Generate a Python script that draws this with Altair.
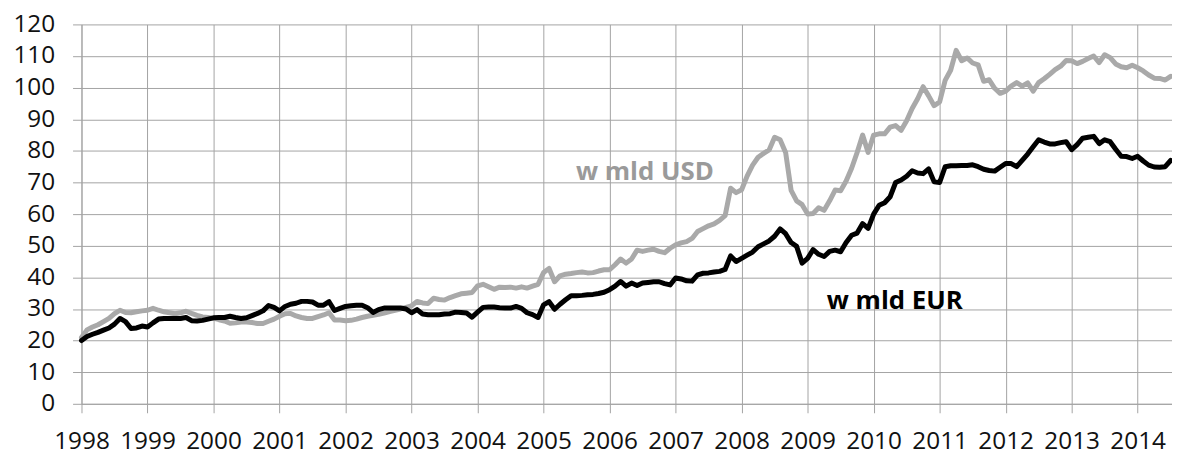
import altair as alt
import pandas as pd

# ---- data (monthly, Jan 1998 - Jul 2014) ----
start_year = 1998
year_ticks = list(range(1998, 2015))
value_ticks = list(range(0, 121, 10))

usd = [
    # 1998
    21.0, 23.4, 24.3, 25.0, 26.0, 27.0, 28.5, 29.6, 28.9, 28.8, 29.1, 29.4,
    # 1999
    29.6, 30.2, 29.6, 29.1, 28.8, 28.5, 28.8, 29.3, 28.6, 28.0, 27.5, 27.3,
    # 2000
    27.1, 26.6, 26.2, 25.5, 25.6, 25.9, 25.9, 25.7, 25.4, 25.4, 26.1, 26.8,
    # 2001
    27.7, 28.5, 28.6, 27.8, 27.3, 27.0, 27.0, 27.6, 28.1, 28.8, 26.5, 26.5,
    # 2002
    26.3, 26.4, 26.8, 27.3, 27.7, 28.0, 28.3, 28.7, 29.2, 29.6, 30.0, 30.5,
    # 2003
    31.0, 32.4, 31.9, 31.7, 33.4, 33.0, 32.8, 33.6, 34.2, 34.8, 35.0, 35.2,
    # 2004
    37.3, 37.8, 37.0, 36.2, 36.9, 36.8, 36.9, 36.6, 37.0, 36.6, 37.2, 37.8,
    # 2005
    41.5, 42.8, 38.6, 40.5, 41.0, 41.2, 41.5, 41.7, 41.4, 41.5, 42.0, 42.4,
    # 2006
    42.4, 44.0, 45.8, 44.5, 45.8, 48.6, 48.2, 48.6, 48.9, 48.2, 47.8, 49.2,
    # 2007
    50.3, 50.9, 51.3, 52.3, 54.5, 55.4, 56.3, 56.9, 58.0, 59.5, 68.2, 66.8,
    # 2008
    67.7, 72.0, 75.5, 78.0, 79.2, 80.3, 84.3, 83.5, 79.5, 67.5, 64.2, 63.0,
    # 2009
    60.0, 60.2, 62.0, 61.2, 64.2, 67.6, 67.4, 70.5, 74.5, 79.5, 85.0, 79.5,
    # 2010
    85.0, 85.4, 85.4, 87.5, 88.0, 86.5, 89.5, 93.4, 96.5, 100.3, 97.4, 94.3,
    # 2011
    95.5, 102.3, 105.5, 111.8, 108.5, 109.4, 107.8, 107.2, 102.0, 102.5, 99.8, 98.2,
    # 2012
    98.9, 100.5, 101.6, 100.5, 101.5, 98.9, 101.6, 102.8, 104.2, 105.7, 106.8, 108.6,
    # 2013
    108.5, 107.6, 108.3, 109.2, 110.0, 107.9, 110.4, 109.5, 107.5, 106.6, 106.3, 107.1,
    # 2014
    106.3, 105.3, 104.0, 103.0, 102.9, 102.4, 103.6,
]

eur = [
    # 1998
    20.0, 21.3, 22.0, 22.6, 23.3, 24.0, 25.2, 27.0, 26.0, 23.8, 24.0, 24.6,
    # 1999
    24.3, 25.6, 26.8, 27.0, 27.0, 27.0, 27.0, 27.3, 26.3, 26.2, 26.4, 26.8,
    # 2000
    27.2, 27.3, 27.3, 27.7, 27.3, 27.0, 27.2, 27.9, 28.6, 29.4, 31.1, 30.5,
    # 2001
    29.4, 30.8, 31.5, 31.8, 32.4, 32.4, 32.2, 31.2, 31.2, 32.3, 29.5, 30.2,
    # 2002
    30.8, 31.0, 31.2, 31.2, 30.4, 28.9, 29.8, 30.3, 30.3, 30.3, 30.3, 30.0,
    # 2003
    28.8, 29.8, 28.4, 28.2, 28.2, 28.2, 28.4, 28.5, 29.0, 28.9, 28.7, 27.4,
    # 2004
    29.0, 30.5, 30.6, 30.6, 30.4, 30.3, 30.3, 30.8, 30.2, 28.8, 28.2, 27.3,
    # 2005
    31.3, 32.3, 29.9, 31.5, 32.9, 34.2, 34.2, 34.3, 34.5, 34.6, 34.9, 35.3,
    # 2006
    36.1, 37.2, 38.7, 37.2, 38.2, 37.4, 38.2, 38.4, 38.6, 38.6, 38.0, 37.6,
    # 2007
    39.8, 39.5, 38.9, 38.8, 40.8, 41.3, 41.4, 41.7, 41.9, 42.5, 46.8, 45.0,
    # 2008
    46.0, 47.0, 48.0, 49.7, 50.6, 51.5, 53.0, 55.3, 53.8, 51.0, 49.8, 44.5,
    # 2009
    46.0, 48.8, 47.3, 46.6, 48.2, 48.6, 48.1, 51.0, 53.3, 54.0, 57.0, 55.5,
    # 2010
    60.0, 62.8, 63.6, 65.5, 70.0, 70.8, 72.0, 73.7, 73.0, 72.8, 74.3, 70.2,
    # 2011
    70.0, 75.0, 75.3, 75.3, 75.4, 75.4, 75.6, 75.0, 74.2, 73.8, 73.6, 74.8,
    # 2012
    76.0, 76.0, 75.0, 77.0, 79.0, 81.3, 83.5, 82.8, 82.2, 82.2, 82.6, 82.9,
    # 2013
    80.4, 82.0, 84.0, 84.3, 84.6, 82.3, 83.5, 82.9, 80.5, 78.3, 78.2, 77.6,
    # 2014
    78.3, 76.8, 75.5, 74.9, 74.8, 75.0, 77.0,
]

label_usd = "w mld USD"
label_eur = "w mld EUR"
# label anchor points (data units: year, value)
label_t = [2005.49, 2009.29]
label_v = [70.7, 30.1]

# ---- styling ----
FONT = "Open Sans"
GRID = "#a3a3a3"
TEXT = "#111111"
USD_COLOR = "#a9a9a9"
EUR_COLOR = "#000000"

n = len(eur)
months = [start_year + i / 12 for i in range(n)]
df_usd = pd.DataFrame({"t": months, "v": usd})
df_eur = pd.DataFrame({"t": months, "v": eur})
df_lab_usd = pd.DataFrame({"t": [label_t[0]], "v": [label_v[0]], "txt": [label_usd]})
df_lab_eur = pd.DataFrame({"t": [label_t[1]], "v": [label_v[1]], "txt": [label_eur]})

x_enc = alt.X(
    "t:Q",
    scale=alt.Scale(domain=[1998, 2014.52], nice=False, zero=False),
    axis=alt.Axis(
        values=year_ticks, format="d", title=None, grid=True,
        gridColor=GRID, gridWidth=1, tickSize=9, tickColor=GRID, tickWidth=1,
        domainColor=GRID, domainWidth=1,
        labelFont=FONT, labelFontSize=24.5, labelColor=TEXT,
        labelPadding=17, labelFlush=False, labelOverlap=False,
    ),
)
y_enc = alt.Y(
    "v:Q",
    scale=alt.Scale(domain=[0, 120], nice=False),
    axis=alt.Axis(
        values=value_ticks, title=None, grid=True,
        gridColor=GRID, gridWidth=1, tickSize=9, tickColor=GRID, tickWidth=1,
        domainColor=GRID, domainWidth=1,
        labelFont=FONT, labelFontSize=24.5, labelColor=TEXT,
        labelPadding=18, labelOverlap=False,
    ),
)

line_usd = alt.Chart(df_usd).mark_line(
    color=USD_COLOR, strokeWidth=5, strokeJoin="round", strokeCap="round"
).encode(x=x_enc, y=y_enc)

line_eur = alt.Chart(df_eur).mark_line(
    color=EUR_COLOR, strokeWidth=5, strokeJoin="round", strokeCap="round"
).encode(x=x_enc, y=y_enc)

text_usd = alt.Chart(df_lab_usd).mark_text(
    align="left", baseline="alphabetic", font=FONT, fontSize=26,
    fontWeight="bold", color="#9a9a9a"
).encode(x=x_enc, y=y_enc, text="txt:N")

text_eur = alt.Chart(df_lab_eur).mark_text(
    align="left", baseline="alphabetic", font=FONT, fontSize=26,
    fontWeight="bold", color="#000000"
).encode(x=x_enc, y=y_enc, text="txt:N")

chart = (
    alt.layer(line_usd, line_eur, text_usd, text_eur)
    .properties(
        width=1098, height=382, autosize="none",
        padding={"left": 74, "top": 15, "right": 0, "bottom": 50},
        background="white",
    )
    .configure_view(stroke=None)
)

chart.save("out.html", embed_options={"renderer": "svg", "actions": False})
